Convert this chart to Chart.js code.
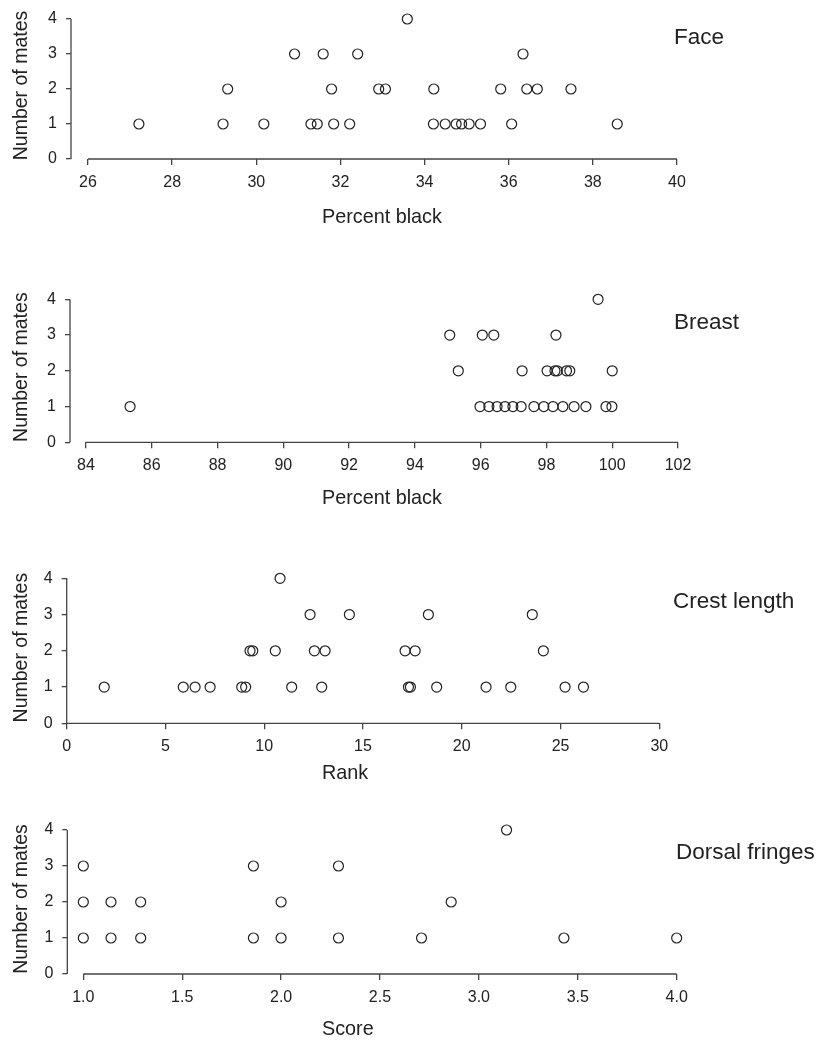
<!DOCTYPE html>
<html>
<head>
<meta charset="utf-8">
<script src="https://cdn.jsdelivr.net/npm/chart.js@4.4.1/dist/chart.umd.min.js"></script>
<style>
  body { margin: 0; background: #fff; }
  #page { position: relative; width: 823px; height: 1041px; overflow: hidden;
          font-family: "Liberation Sans", Arial, sans-serif; color: #222; }
  canvas { position: absolute; left: 0; }
  .lbl { position: absolute; white-space: nowrap; line-height: 1; }
  .name { font-size: 22.5px; }
  .xt { font-size: 19.8px; left: 322px; }
</style>
</head>
<body>
<div id="page">
  <canvas id="face" width="823" height="250" style="top:0px"></canvas>
  <canvas id="breast" width="823" height="250" style="top:280px"></canvas>
  <canvas id="crest" width="823" height="250" style="top:560px"></canvas>
  <canvas id="dorsal" width="823" height="229" style="top:812px"></canvas>

  <div class="lbl name" style="left:674px;top:26px">Face</div>
  <div class="lbl name" style="left:674px;top:311px">Breast</div>
  <div class="lbl name" style="left:673px;top:590px">Crest length</div>
  <div class="lbl name" style="left:676px;top:841px">Dorsal fringes</div>

  <div class="lbl xt" style="top:207px">Percent black</div>
  <div class="lbl xt" style="top:488px">Percent black</div>
  <div class="lbl xt" style="top:763px">Rank</div>
  <div class="lbl xt" style="top:1019px">Score</div>
</div>
<script>
// Face - percent black vs number of mates
const faceX = [33.59,
  30.91, 31.59, 32.41, 36.34,
  29.32, 31.79, 32.91, 33.07, 34.22, 35.81, 36.43, 36.68, 37.48,
  27.21, 29.21, 30.18, 31.30, 31.45, 31.84, 32.22, 34.21, 34.49, 34.75, 34.88, 35.06, 35.33, 36.07, 38.58];
const faceMates = [4,
  3, 3, 3, 3,
  2, 2, 2, 2, 2, 2, 2, 2, 2,
  1, 1, 1, 1, 1, 1, 1, 1, 1, 1, 1, 1, 1, 1, 1];
const faceTicks = [26, 28, 30, 32, 34, 36, 38, 40];

// Breast - percent black
const breastX = [99.57,
  95.06, 96.05, 96.40, 98.29,
  95.32, 97.26, 98.02, 98.26, 98.33, 98.61, 98.71, 100.0,
  85.34, 95.98, 96.25, 96.50, 96.74, 96.98, 97.23, 97.62, 97.92, 98.20, 98.50, 98.84, 99.20, 99.81, 99.99];
const breastMates = [4,
  3, 3, 3, 3,
  2, 2, 2, 2, 2, 2, 2, 2,
  1, 1, 1, 1, 1, 1, 1, 1, 1, 1, 1, 1, 1, 1, 1];
const breastTicks = [84, 86, 88, 90, 92, 94, 96, 98, 100, 102];

// Crest length - rank
const crestX = [10.80,
  12.32, 14.31, 18.31, 23.57,
  9.28, 9.42, 10.56, 12.54, 13.08, 17.13, 17.64, 24.13,
  1.90, 5.90, 6.50, 7.26, 8.86, 9.06, 11.39, 12.91, 17.30, 17.40, 18.73, 21.23, 22.48, 25.23, 26.16];
const crestMates = [4,
  3, 3, 3, 3,
  2, 2, 2, 2, 2, 2, 2, 2,
  1, 1, 1, 1, 1, 1, 1, 1, 1, 1, 1, 1, 1, 1, 1];
const crestTicks = [0, 5, 10, 15, 20, 25, 30];

// Dorsal fringes - score
const dorsalX = [3.14,
  1.00, 1.86, 2.29,
  1.00, 1.14, 1.29, 2.00, 2.86,
  1.00, 1.14, 1.29, 1.86, 2.00, 2.29, 2.71, 3.43, 4.00];
const dorsalMates = [4,
  3, 3, 3,
  2, 2, 2, 2, 2,
  1, 1, 1, 1, 1, 1, 1, 1, 1];
const dorsalTicks = [1.0, 1.5, 2.0, 2.5, 3.0, 3.5, 4.0];

const mateTicks = [0, 1, 2, 3, 4];

const INK = '#222';
const AXIS = '#444';
Chart.defaults.font.family = '"Liberation Sans", Arial, sans-serif';
Chart.defaults.color = INK;

// R style axes: the line only runs from the first to the last tick
const rAxes = {
  id: 'rAxes',
  afterDraw(chart) {
    const { ctx, scales: { x, y } } = chart;
    const xa = x.getPixelForValue(x.ticks[0].value);
    const xb = x.getPixelForValue(x.ticks[x.ticks.length - 1].value);
    const ya = y.getPixelForValue(y.ticks[0].value);
    const yb = y.getPixelForValue(y.ticks[y.ticks.length - 1].value);
    ctx.save();
    ctx.strokeStyle = AXIS;
    ctx.lineWidth = 1.3;
    ctx.beginPath();
    ctx.moveTo(xa, x.top);
    ctx.lineTo(xb, x.top);
    ctx.moveTo(y.right, ya);
    ctx.lineTo(y.right, yb);
    ctx.stroke();
    ctx.restore();
  }
};

function drawPanel(id, xs, mates, xTicks, o) {
  new Chart(document.getElementById(id), {
    type: 'scatter',
    data: {
      datasets: [{
        data: xs.map((v, i) => ({ x: v, y: mates[i] })),
        pointRadius: 5,
        pointHoverRadius: 5,
        pointBorderWidth: 1.2,
        pointBorderColor: INK,
        pointBackgroundColor: 'rgba(0,0,0,0)',
        clip: false
      }]
    },
    options: {
      responsive: false,
      animation: false,
      events: [],
      layout: { padding: { top: 12, right: 123, left: 0, bottom: 0 } },
      plugins: { legend: { display: false }, tooltip: { enabled: false } },
      scales: {
        x: {
          type: 'linear',
          min: o.xMin,
          max: o.xMax,
          afterBuildTicks: s => { s.ticks = xTicks.map(v => ({ value: v })); },
          afterFit: s => { s.height = o.xHeight; },
          grid: { drawOnChartArea: false, tickLength: 6, color: AXIS, lineWidth: 1.3 },
          border: { display: false },
          ticks: { padding: 8, font: { size: 16 }, color: INK, maxRotation: 0, autoSkip: false,
                   callback: v => v.toFixed(o.dec) }
        },
        y: {
          min: 0,
          max: o.yMax,
          afterBuildTicks: s => { s.ticks = mateTicks.map(v => ({ value: v })); },
          // fixed width, and no extra room pushed onto the chart top
          afterFit: s => { s.width = o.axisX; s.paddingTop = 0; s.paddingBottom = 0; },
          grid: { drawOnChartArea: false, tickLength: 5, color: AXIS, lineWidth: 1.3 },
          border: { display: false },
          ticks: { padding: 9, font: { size: 16 }, color: INK, autoSkip: false },
          title: { display: true, text: 'Number of mates', color: INK,
                   font: { size: 19.5 }, padding: { top: 9.5, bottom: 0 } }
        }
      }
    },
    plugins: [rAxes]
  });
}

drawPanel('face', faceX, faceMates, faceTicks,
  { xMin: 25.596, xMax: 40.547, yMax: 4.2, axisX: 71, xHeight: 91, dec: 0 });
drawPanel('breast', breastX, breastMates, breastTicks,
  { xMin: 83.514, xMax: 102.669, yMax: 4.204, axisX: 70, xHeight: 87.7, dec: 0 });
drawPanel('crest', crestX, crestMates, crestTicks,
  { xMin: 0, xMax: 32.06, yMax: 4.174, axisX: 66.7, xHeight: 86.7, dec: 0 });
drawPanel('dorsal', dorsalX, dorsalMates, dorsalTicks,
  { xMin: 0.919, xMax: 4.118, yMax: 4.167, axisX: 67.3, xHeight: 67, dec: 1 });
</script>
</body>
</html>
